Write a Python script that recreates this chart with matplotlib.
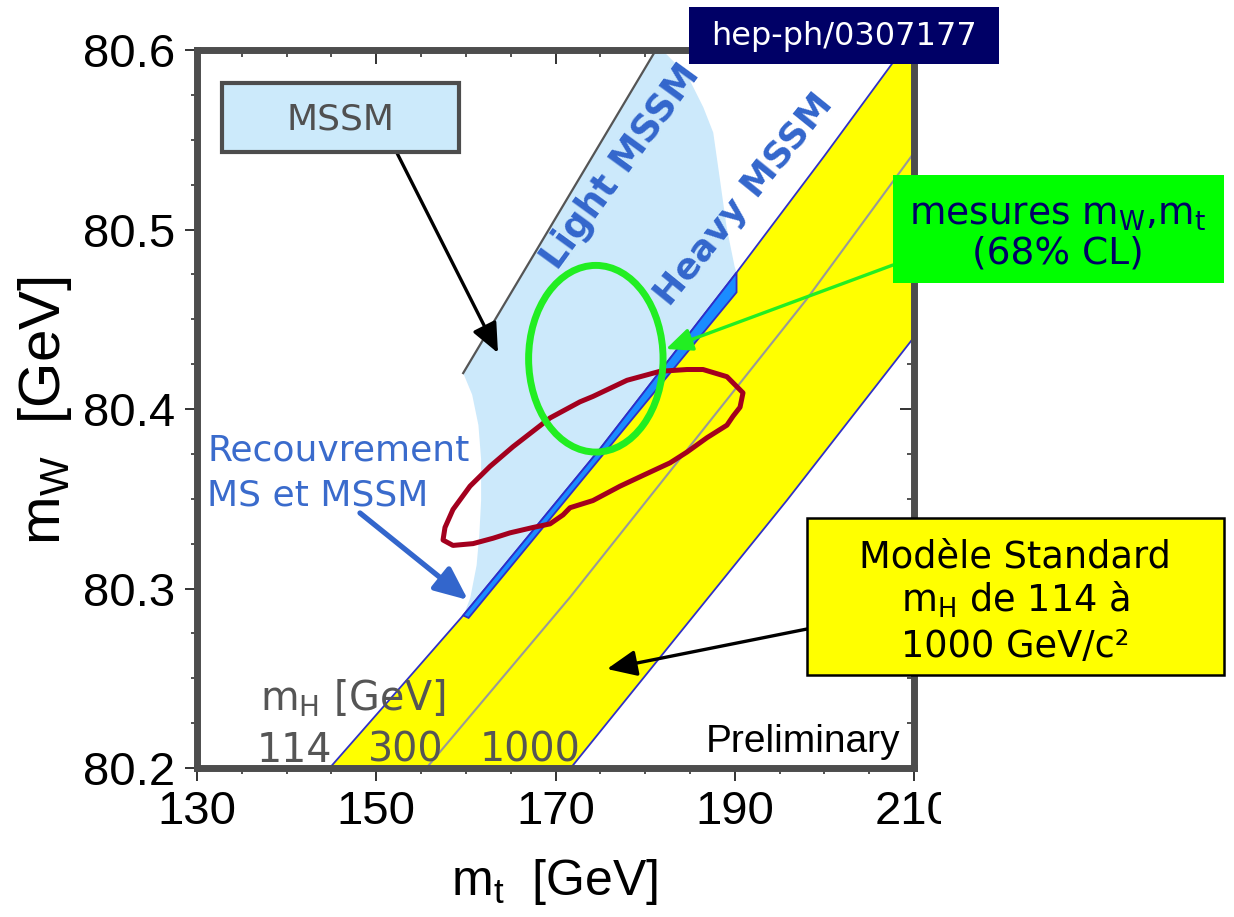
import numpy as np
import matplotlib
matplotlib.use("Agg")
import matplotlib.pyplot as plt
from matplotlib.patches import Polygon, Ellipse, Rectangle

plt.rcParams['mathtext.fontset'] = 'custom'
plt.rcParams['mathtext.rm'] = 'Liberation Sans'

W, H = 1234, 917

# ---------------- data ----------------
mt_ticks = [130, 150, 170, 190, 210]
mw_ticks = [80.2, 80.3, 80.4, 80.5, 80.6]
mt_tick_labels = ["130", "150", "170", "190", "210"]
mw_tick_labels = ["80.2", "80.3", "80.4", "80.5", "80.6"]

# SM band edges for mH = 114, 300, 1000 GeV
sm114_mt = [144.8, 152.0, 159.7, 175.0, 190.2, 200.0, 207.5, 208.8]
sm114_mw = [80.200, 80.241, 80.285, 80.378, 80.476, 80.541, 80.592, 80.600]
sm300_mt = [155.6, 171.6, 198.0, 209.6, 210.0]
sm300_mw = [80.200, 80.295, 80.461, 80.540, 80.543]
sm1000_mt = [171.7, 186.9, 195.8, 210.0]
sm1000_mw = [80.200, 80.294, 80.349, 80.440]

# MSSM region
mssm_mt = [159.7, 181.2, 181.9, 184.7, 186.5, 187.6, 188.4, 189.1, 190.0, 190.2,
           175.0, 159.7, 159.9, 160.5, 161.2, 161.5, 161.7, 161.7, 161.4, 160.7]
mssm_mw = [80.420, 80.600, 80.600, 80.586, 80.568, 80.554, 80.526, 80.501, 80.479, 80.476,
           80.378, 80.285, 80.287, 80.295, 80.313, 80.330, 80.349, 80.372, 80.391, 80.408]
light_edge_mt = [159.7, 181.2]
light_edge_mw = [80.420, 80.600]

# overlap SM / MSSM
overlap_mt = [159.7, 175.0, 190.2, 190.2, 160.3]
overlap_mw = [80.285, 80.378, 80.476, 80.465, 80.2836]

# indirect 68% CL contour
fit_mt = [157.45, 157.67, 158.56, 160.46, 162.69, 165.26, 169.39, 172.73, 174.18, 177.98,
          181.66, 184.67, 186.46, 189.13, 190.92, 190.59, 189.81, 189.13, 186.90, 184.67,
          182.78, 179.76, 177.20, 174.18, 171.62, 170.84, 169.39, 167.49, 164.92, 163.03,
          160.80, 158.56]
fit_mw = [80.327, 80.334, 80.344, 80.357, 80.368, 80.379, 80.395, 80.404, 80.407, 80.416,
          80.421, 80.422, 80.422, 80.418, 80.409, 80.401, 80.396, 80.391, 80.384, 80.376,
          80.370, 80.363, 80.357, 80.349, 80.345, 80.341, 80.336, 80.334, 80.331, 80.328,
          80.325, 80.324]

# direct measurements (68% CL ellipse)
meas_mt, meas_mw = 174.5, 80.428
meas_dmt, meas_dmw = 7.5, 0.052


def fpx(px, py):
    """pixel position (origin top-left) -> figure fraction"""
    return px / W, 1 - py / H


fig = plt.figure(figsize=(W / 100, H / 100), dpi=100)
ax = fig.add_axes([197 / W, 1 - 768 / H, (914 - 197) / W, (768 - 50) / H])
ax.set_xlim(130, 210)
ax.set_ylim(80.2, 80.6)

# regions
ax.add_patch(Polygon(np.column_stack([mssm_mt, mssm_mw]), closed=True,
                     facecolor='#cce9fb', edgecolor='none', zorder=1))
ax.plot(light_edge_mt, light_edge_mw, color='#555555', lw=1.6, zorder=1.5)

band_mt = sm114_mt + [210.0] + sm1000_mt[::-1]
band_mw = sm114_mw + [80.600] + sm1000_mw[::-1]
ax.add_patch(Polygon(np.column_stack([band_mt, band_mw]), closed=True,
                     facecolor='#ffff00', edgecolor='none', zorder=2))
ax.plot(sm114_mt, sm114_mw, color='#3030c8', lw=1.3, zorder=2.3)
ax.plot(sm1000_mt, sm1000_mw, color='#3030c8', lw=1.3, zorder=2.3)
ax.plot([sm114_mt[0], sm1000_mt[0]], [sm114_mw[0], sm1000_mw[0]], color='#3030c8', lw=1.3, zorder=2.3)
ax.plot(sm300_mt, sm300_mw, color='#999999', lw=1.5, zorder=2.2)

ax.add_patch(Polygon(np.column_stack([overlap_mt, overlap_mw]), closed=True,
                     facecolor='#1a8cff', edgecolor='#2e2ec8', lw=1.3, zorder=2.5))

ax.add_patch(Polygon(np.column_stack([fit_mt, fit_mw]), closed=True,
                     facecolor='none', edgecolor='#a3001e', lw=3.6, joinstyle='round', zorder=4))

ax.add_patch(Ellipse((meas_mt, meas_mw), 2 * meas_dmt, 2 * meas_dmw,
                     facecolor='none', edgecolor='#22ee22', lw=5, zorder=5))

# frame and ticks
for sp in ax.spines.values():
    sp.set_linewidth(5)
    sp.set_color('#4d4d4d')
    sp.set_zorder(6)

ax.set_xticks(mt_ticks)
ax.set_xticklabels(mt_tick_labels)
ax.set_xticks(np.arange(130, 210.1, 5), minor=True)
ax.set_yticks(mw_ticks)
ax.set_yticklabels(mw_tick_labels)
ax.set_yticks(np.arange(80.2, 80.601, 0.025), minor=True)
ax.tick_params(which='major', direction='out', length=9, width=1.4, color='#333333',
               labelsize=34, pad=7)
ax.tick_params(which='minor', direction='out', length=4.5, width=1.2, color='#333333')
for lab in ax.get_xticklabels() + ax.get_yticklabels():
    lab.set_family('Liberation Sans')

top = ax.secondary_xaxis('top')
top.set_xticks(mt_ticks)
top.set_xticks(np.arange(130, 210.1, 5), minor=True)
top.tick_params(which='major', direction='in', length=10, width=1.4, color='#333333', labeltop=False)
top.tick_params(which='minor', direction='in', length=5, width=1.2, color='#333333')
top.spines['top'].set_visible(False)
right = ax.secondary_yaxis('right')
right.set_yticks(mw_ticks)
right.set_yticks(np.arange(80.2, 80.601, 0.025), minor=True)
right.tick_params(which='major', direction='in', length=10, width=1.4, color='#333333', labelright=False)
right.tick_params(which='minor', direction='in', length=5, width=1.2, color='#333333')
right.spines['right'].set_visible(False)

# axis titles
fig.text(*fpx(555, 895), r'$\mathregular{m_t}$  [GeV]', family='Liberation Sans',
         fontsize=36, ha='center', va='baseline')
fig.text(*fpx(60, 411), r'$\mathregular{m_W}$  [GeV]', family='Liberation Sans',
         fontsize=42, ha='center', va='baseline', rotation=90, rotation_mode='anchor')

# labels inside the plot
sans = 'DejaVu Sans'
fig.text(*fpx(621, 167), 'Light MSSM', family=sans, fontsize=26.5, fontweight='bold',
         color='#3366cc', rotation=54, rotation_mode='anchor', ha='center', va='center', zorder=7)
fig.text(*fpx(744, 200), 'Heavy MSSM', family=sans, fontsize=26, fontweight='bold',
         color='#3366cc', rotation=51, rotation_mode='anchor', ha='center', va='center', zorder=7)

fig.text(*fpx(207, 461), 'Recouvrement', family=sans, fontsize=26, color='#3a6bcc',
         ha='left', va='baseline')
fig.text(*fpx(207, 505), 'MS et MSSM', family=sans, fontsize=26, color='#3a6bcc',
         ha='left', va='baseline')

fig.text(*fpx(260, 710), r'$\mathregular{m_H}$ [GeV]', family=sans, fontsize=28.5,
         color='#555555', ha='left', va='baseline', zorder=7)
for s, x0 in [('114', 257), ('300', 368), ('1000', 480)]:
    fig.text(*fpx(x0, 762), s, family=sans, fontsize=28.5, color='#555555',
             ha='left', va='baseline', zorder=7)

fig.text(*fpx(706, 752), 'Preliminary', family='Liberation Sans', fontsize=28,
         color='black', ha='left', va='baseline', zorder=7)


def box(x0, y0, x1, y1, fc, ec='none', lw=0):
    x, y = fpx(x0, y1)
    fig.add_artist(Rectangle((x, y), (x1 - x0) / W, (y1 - y0) / H, transform=fig.transFigure,
                             facecolor=fc, edgecolor=ec, lw=lw, zorder=20))


# callout boxes
box(222, 83, 459, 152, '#cceafb', '#4d4d4d', 3)
fig.text(*fpx(341, 119), 'MSSM', family=sans, fontsize=26, color='#505050',
         ha='center', va='center', zorder=21)

box(689, 7, 999, 64, '#000066')
fig.text(*fpx(844, 37), 'hep-ph/0307177', family=sans, fontsize=23, color='white',
         ha='center', va='center', zorder=21)

box(893, 175, 1224, 283, '#00ff00')
fig.text(*fpx(1058, 225), r'mesures $\mathregular{m_W}$,$\mathregular{m_t}$', family=sans,
         fontsize=27, color='#000066', ha='center', va='baseline', zorder=21)
fig.text(*fpx(1058, 263), '(68% CL)', family=sans, fontsize=27, color='#000066',
         ha='center', va='baseline', zorder=21)

box(807, 518, 1224, 675, '#ffff00', 'black', 1.8)
fig.text(*fpx(1015, 567), 'Modèle Standard', family=sans, fontsize=26.5, color='black',
         ha='center', va='baseline', zorder=21)
fig.text(*fpx(1015, 612), r'$\mathregular{m_H}$ de 114 à', family=sans, fontsize=26.5,
         color='black', ha='center', va='baseline', zorder=21)
fig.text(*fpx(1015, 657), '1000 GeV/c²', family=sans, fontsize=26.5, color='black',
         ha='center', va='baseline', zorder=21)


def arrow(tail, tip, color, lw, scale):
    ax.annotate('', xy=(tip[0], H - tip[1]), xycoords='figure pixels',
                xytext=(tail[0], H - tail[1]), textcoords='figure pixels',
                arrowprops=dict(arrowstyle='-|>,head_length=0.5,head_width=0.22',
                                color=color, lw=lw, mutation_scale=scale,
                                shrinkA=0, shrinkB=0),
                zorder=8, annotation_clip=False)


arrow((397, 153), (498, 353), 'black', 2.4, 36)
arrow((360, 513), (468, 600), '#3366cc', 3.8, 40)
arrow((893, 265), (666, 349), '#22ee22', 2.4, 32)
arrow((807, 629), (607, 669), 'black', 2.4, 36)

# trim the last x tick label at the image edge
fig.add_artist(Rectangle((941 / W, 0), 1 - 941 / W, 1 - 776 / H, transform=fig.transFigure,
                         facecolor='white', edgecolor='none', zorder=30))

fig.savefig('out.png', dpi=100)
